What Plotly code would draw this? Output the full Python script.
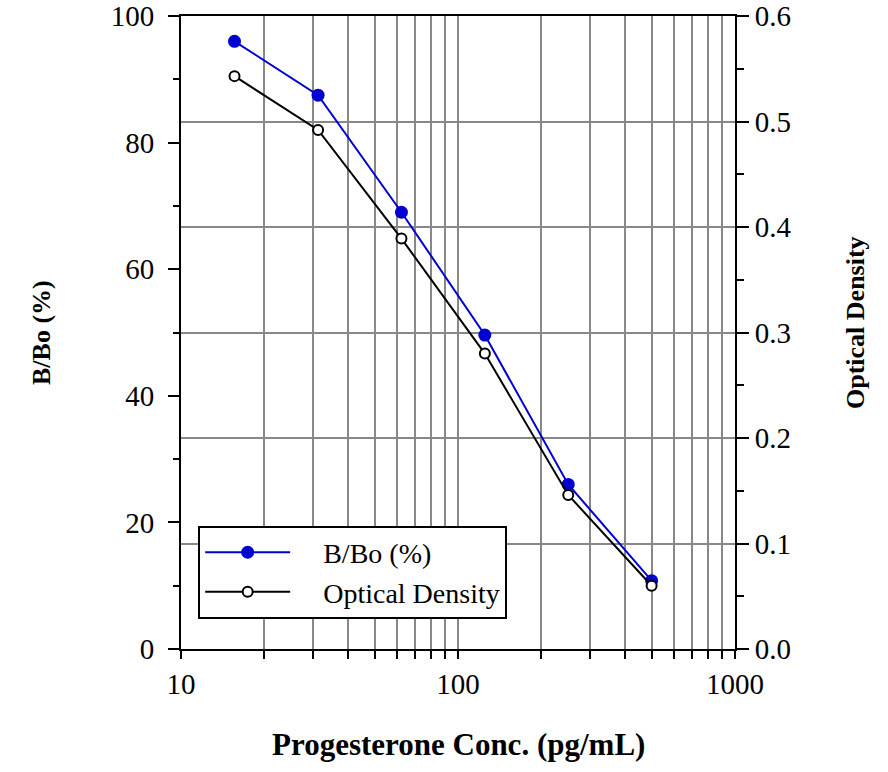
import plotly.graph_objects as go

conc = [15.6, 31.25, 62.5, 125, 250, 500]
bbo = [96.0, 87.5, 69.0, 49.6, 26.0, 10.8]
od = [0.543, 0.492, 0.389, 0.280, 0.146, 0.060]
series_names = ["B/Bo (%)", "Optical Density"]

x_tickvals = [10, 20, 30, 40, 50, 60, 70, 80, 90,
              100, 200, 300, 400, 500, 600, 700, 800, 900, 1000]
x_ticktext = ["10"] + [""] * 8 + ["100"] + [""] * 8 + ["1000"]

FONT = "Liberation Serif, Times New Roman, serif"
GRID = "#888888"
TICK = 29
LEG = 28
TITLE_H = 31
TITLE_V = 26
PAD = "\u00a0\u00a0\u00a0\u00a0"

fig = go.Figure()
fig.add_trace(go.Scatter(
    x=conc, y=bbo, name=PAD + series_names[0], mode="lines+markers",
    line=dict(color="#0000d0", width=2),
    marker=dict(color="#0000d0", size=13, symbol="circle"),
    yaxis="y"))
fig.add_trace(go.Scatter(
    x=conc, y=od, name=PAD + series_names[1], mode="lines+markers",
    line=dict(color="black", width=2),
    marker=dict(color="white", size=10, symbol="circle",
                line=dict(color="black", width=2)),
    yaxis="y2"))

fig.update_layout(
    width=888, height=772,
    margin=dict(l=181, r=153, t=16, b=123, autoexpand=False),
    paper_bgcolor="white", plot_bgcolor="white",
    font=dict(family=FONT, size=TICK, color="black"),
    showlegend=True,
    legend=dict(x=0.031, y=0.195, xanchor="left", yanchor="top",
                bordercolor="black", borderwidth=2, bgcolor="white",
                font=dict(family=FONT, size=LEG), itemwidth=85,
                tracegroupgap=0),
    xaxis=dict(type="log", range=[1, 3], tickvals=x_tickvals, ticktext=x_ticktext,
               showgrid=True, gridcolor=GRID, gridwidth=2,
               showline=True, linecolor="black", linewidth=2, mirror=True,
               ticks="outside", ticklen=8, tickwidth=2, tickcolor="black",
               zeroline=False, tickfont=dict(size=TICK), automargin=False),
    yaxis=dict(range=[0, 100], dtick=20, showgrid=False,
               showline=True, linecolor="black", linewidth=2,
               ticks="outside", ticklen=11, tickwidth=2, tickcolor="black",
               ticklabelstandoff=8,
               minor=dict(dtick=10, ticks="outside", ticklen=6, tickwidth=2,
                          tickcolor="black", showgrid=False),
               zeroline=False, tickfont=dict(size=TICK), automargin=False),
    yaxis2=dict(range=[0, 0.6], dtick=0.1, tickformat=".1f",
                overlaying="y", side="right",
                showgrid=True, gridcolor=GRID, gridwidth=2,
                showline=True, linecolor="black", linewidth=2,
                ticks="outside", ticklen=12, tickwidth=2, tickcolor="black",
                minor=dict(dtick=0.05, ticks="outside", ticklen=7, tickwidth=2,
                           tickcolor="black", showgrid=False),
                zeroline=False, tickfont=dict(size=TICK), automargin=False),
    annotations=[
        dict(text="<b>B/Bo (%)</b>", xref="paper", yref="paper", x=0, y=0.5,
             xshift=-156, textangle=-90, showarrow=False,
             font=dict(family=FONT, size=TITLE_V)),
        dict(text="<b>Optical Density</b>", xref="paper", yref="paper", x=1, y=0.5,
             xshift=137, yshift=10, textangle=-90, showarrow=False,
             font=dict(family=FONT, size=TITLE_V)),
        dict(text="<b>Progesterone Conc. (pg/mL)</b>", xref="paper", yref="paper",
             x=0.5, y=0, yshift=-115, showarrow=False,
             font=dict(family=FONT, size=TITLE_H)),
    ],
)

fig.write_html("out.html", config={"displayModeBar": False})

with open("out.html", "r", encoding="utf-8") as f:
    html = f.read()
html = html.replace("<head>", "<head><style>html,body{margin:0;padding:0;overflow:hidden;}</style>", 1)
with open("out.html", "w", encoding="utf-8") as f:
    f.write(html)
